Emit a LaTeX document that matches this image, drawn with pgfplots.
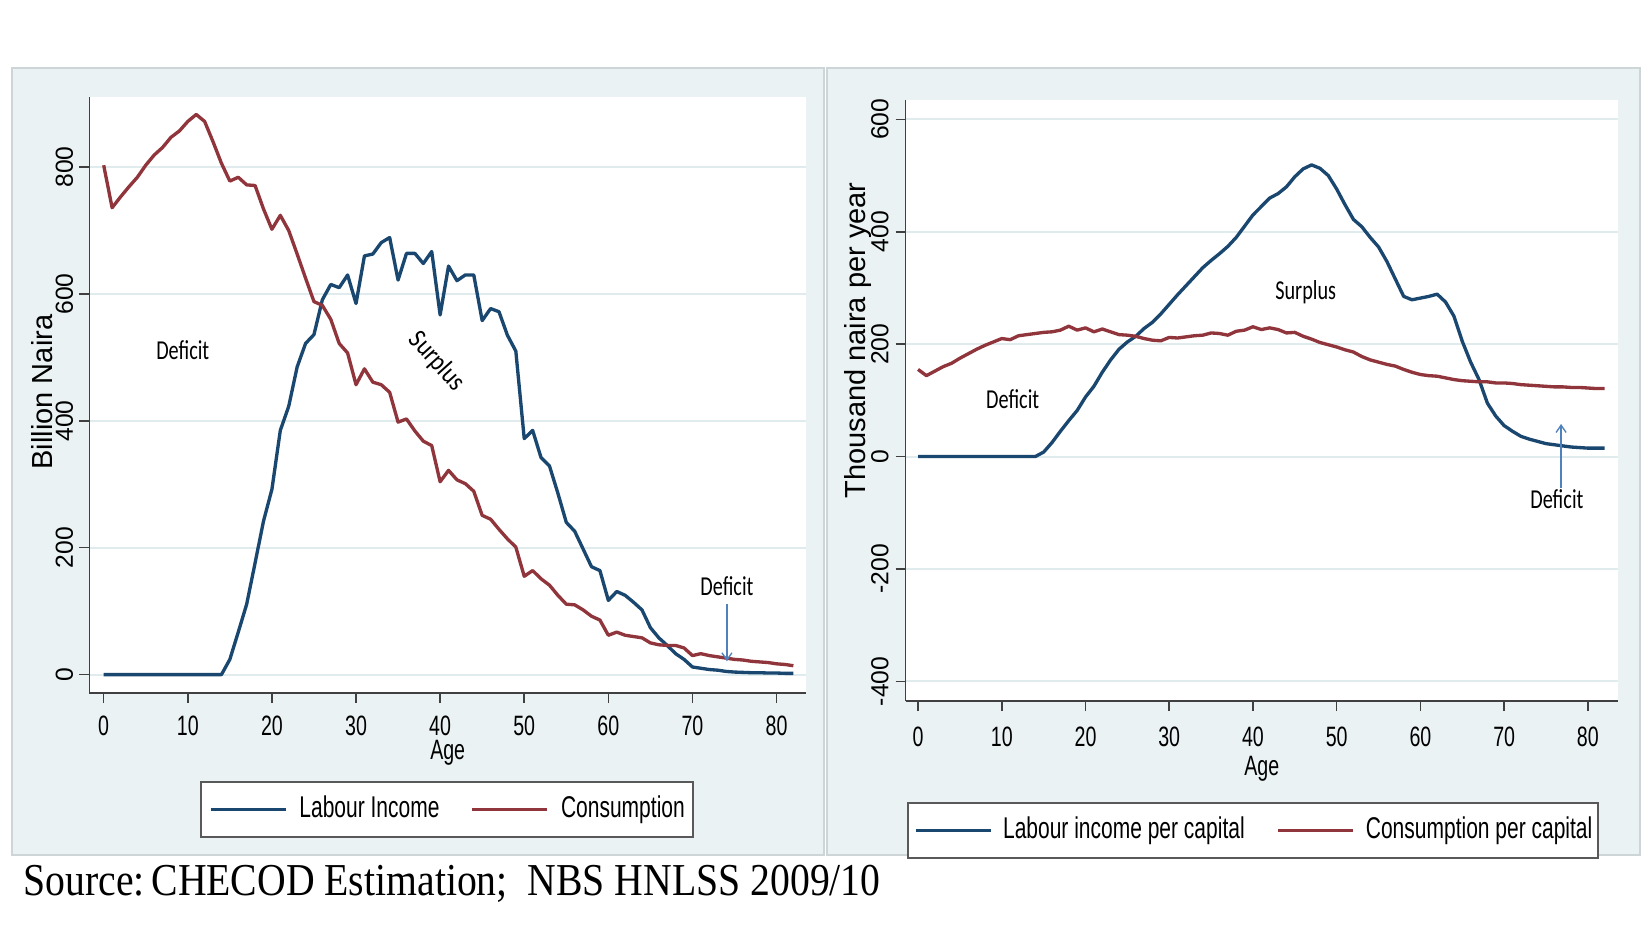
\documentclass[border=0pt]{standalone}
\usepackage{pgfplots}
\pgfplotsset{compat=1.18}
\usepackage{graphicx}
\usepackage{fontspec}
\setmainfont{Liberation Sans}
\newfontfamily\calib{Carlito}
\newfontfamily\srcfont{Liberation Serif}
\usetikzlibrary{arrows.meta}

\definecolor{stnavy}{RGB}{26,71,111}
\definecolor{stmaroon}{RGB}{144,53,59}
\definecolor{panelbg}{RGB}{234,242,243}
\definecolor{gridc}{RGB}{224,235,237}
\definecolor{panelborder}{RGB}{205,213,215}
\definecolor{arrowblue}{RGB}{79,129,189}

\newcommand{\nar}[1]{\scalebox{0.7}[1]{#1}}
\newcommand{\annot}[1]{{\calib\fontsize{8.2}{10}\selectfont\scalebox{0.74}[1]{#1}}}

\pgfplotsset{
 stata/.style={
  scale only axis,
  clip=false,
  axis background/.style={fill=white},
  axis x line*=bottom, axis y line*=left,
  axis line style={color=black!75, line width=0.45pt},
  tick align=outside,
  major tick length=3pt,
  tick style={color=black!75, line width=0.45pt},
  ymajorgrids, grid style={color=gridc, line width=0.6pt},
  xtick={0,10,...,80},
  /pgf/number format/assume math mode=true,
  /pgf/number format/1000 sep={},
  xticklabel={\nar{\pgfmathprintnumber{\tick}}},
  xticklabel style={anchor=north, inner sep=0pt, font=\fontsize{8.4}{10}\selectfont},
  yticklabel style={rotate=90, anchor=south, inner sep=0pt, font=\fontsize{7.4}{9}\selectfont},
  yticklabel shift=1.7pt,
  ylabel style={anchor=center, inner sep=0pt, font=\fontsize{8.7}{10}\selectfont},
  xlabel style={anchor=center, inner sep=0pt, font=\fontsize{8.4}{10}\selectfont},
  legend columns=2,
  legend image code/.code={\draw[#1, line width=0.95pt] (0pt,0pt) -- (22.5pt,0pt);},
  legend style={fill=white, draw=black!65, line width=0.6pt,
    font=\fontsize{9}{11}\selectfont, anchor=north west,
    inner xsep=2.4pt, inner ysep=4.2pt,
    nodes={inner sep=0pt},
    /tikz/every odd column/.append style={column sep=3.7pt},
    /tikz/every even column/.append style={column sep=9.3pt}},
  every axis plot/.append style={line width=1pt, line join=round, mark=none},
 }
}

\begin{document}
\begin{tikzpicture}
\useasboundingbox (0,0) rectangle (495.3pt,279pt);
\fill[white] (0,0) rectangle (495.3pt,279pt);
\filldraw[fill=panelbg, draw=panelborder, line width=0.45pt] (3.6pt,22.5pt) rectangle (247.2pt,258.6pt);
\filldraw[fill=panelbg, draw=panelborder, line width=0.45pt] (248.1pt,22.5pt) rectangle (492pt,258.6pt);

% ---------------- Left panel ----------------
\begin{axis}[stata,
  at={(26.82pt,71.1pt)}, anchor=south west,
  width=214.98pt, height=178.8pt,
  xmin=-1.7, xmax=83.5, ymin=-29, ymax=910.5,
  ytick={0,200,400,600,800},
  xticklabel shift=3.6pt,
  xlabel={\nar{Age}},
  xlabel style={at={(axis description cs:0.5,-0.101)}},
  ylabel={Billion Naira},
  ylabel style={at={(axis description cs:-0.0661,0.505)}},
  legend style={at={(axis description cs:0.1543,-0.1477)}},
]
\addplot[stnavy] coordinates {
(0,0)(1,0)(2,0)(3,0)(4,0)(5,0)(6,0)(7,0)(8,0)(9,0)(10,0)(11,0)(12,0)(13,0)(14,0)
(15,24)(16,67)(17,111)(18,176)(19,242)(20,292)(21,385)(22,423)(23,485)(24,522)
(25,536)(26,591)(27,615)(28,610)(29,630)(30,585)(31,660)(32,663)(33,681)(34,689)
(35,622)(36,664)(37,664)(38,648)(39,667)(40,567)(41,644)(42,621)(43,630)(44,630)
(45,558)(46,577)(47,572)(48,535)(49,510)(50,372)(51,385)(52,342)(53,329)(54,286)
(55,240)(56,226)(57,198)(58,170)(59,164)(60,117)(61,131)(62,125)(63,114)(64,102)
(65,74)(66,58)(67,46)(68,33)(69,24)(70,12)(71,10)(72,8)(73,7)(74,5)(75,4)(76,3.5)
(77,3)(78,3)(79,2.5)(80,2.5)(81,2)(82,2)};
\addlegendentry{\nar{Labour Income}}
\addplot[stmaroon] coordinates {
(0,803)(1,736)(2,753)(3,769)(4,784)(5,803)(6,819)(7,831)(8,847)(9,857)(10,872)
(11,883)(12,872)(13,840)(14,806)(15,778)(16,784)(17,772)(18,771)(19,734)(20,702)
(21,724)(22,700)(23,663)(24,625)(25,588)(26,582)(27,560)(28,522)(29,507)(30,457)
(31,482)(32,461)(33,457)(34,445)(35,398)(36,403)(37,384)(38,368)(39,361)(40,304)
(41,322)(42,307)(43,301)(44,289)(45,251)(46,245)(47,229)(48,214)(49,201)(50,155)
(51,164)(52,151)(53,141)(54,125)(55,111)(56,110)(57,102)(58,92)(59,86)(60,62)
(61,67)(62,62)(63,60)(64,58)(65,50)(66,47)(67,46)(68,46)(69,42)(70,30)(71,33)
(72,30)(73,28)(74,26)(75,24)(76,23)(77,21)(78,20)(79,19)(80,17)(81,16)(82,14)};
\addlegendentry{\nar{Consumption}}
\node at (axis cs:9.4,512) {\annot{Deficit}};
\node[rotate=-48] at (axis cs:39.6,493) {{\calib\fontsize{8.2}{10}\selectfont\scalebox{0.85}[1]{Surplus}}};
\node at (axis cs:74.1,140) {\annot{Deficit}};
\draw[arrowblue, line width=0.4pt, -{Straight Barb[length=2.2pt,width=3pt]}] (axis cs:74.1,111) -- (axis cs:74.1,21);
\end{axis}

% ---------------- Right panel ----------------
\begin{axis}[stata,
  at={(271.65pt,68.7pt)}, anchor=south west,
  width=213.75pt, height=180.3pt,
  xmin=-1.5, xmax=83.6, ymin=-435, ymax=634.5,
  ytick={-400,-200,0,200,400,600},
  xticklabel shift=4.6pt,
  yticklabel shift=1.9pt,
  xlabel={\nar{Age}},
  xlabel style={at={(axis description cs:0.5,-0.112)}},
  ylabel={Thousand naira per year},
  ylabel style={at={(axis description cs:-0.0667,0.600)}},
  legend style={at={(axis description cs:0.002,-0.168)}, inner xsep=1.8pt,
    /tikz/every odd column/.append style={column sep=3.3pt},
    /tikz/every even column/.append style={column sep=9.6pt}},
]
\addplot[stnavy] coordinates {
(0,0)(1,0)(2,0)(3,0)(4,0)(5,0)(6,0)(7,0)(8,0)(9,0)(10,0)(11,0)(12,0)(13,0)(14,0)
(15,8)(16,25)(17,45)(18,64)(19,82)(20,106)(21,125)(22,150)(23,172)(24,191)(25,204)
(26,214)(27,228)(28,239)(29,254)(30,271)(31,288)(32,304)(33,320)(34,336)(35,349)
(36,361)(37,374)(38,390)(39,410)(40,430)(41,445)(42,460)(43,468)(44,480)(45,498)
(46,512)(47,519)(48,513)(49,500)(50,476)(51,448)(52,422)(53,409)(54,390)(55,373)
(56,347)(57,316)(58,285)(59,279)(60,282)(61,285)(62,289)(63,275)(64,250)(65,205)
(66,168)(67,137)(68,95)(69,72)(70,55)(71,45)(72,36)(73,31)(74,27)(75,23)(76,21)
(77,19)(78,17)(79,16)(80,15)(81,15)(82,15)};
\addlegendentry{\nar{Labour income per capital}}
\addplot[stmaroon] coordinates {
(0,155)(1,144)(2,152)(3,160)(4,166)(5,175)(6,183)(7,191)(8,198)(9,204)(10,210)
(11,208)(12,215)(13,217)(14,219)(15,221)(16,222)(17,225)(18,232)(19,225)(20,229)
(21,222)(22,227)(23,222)(24,217)(25,216)(26,214)(27,210)(28,207)(29,206)(30,212)
(31,211)(32,213)(33,215)(34,216)(35,220)(36,219)(37,216)(38,223)(39,225)(40,231)
(41,226)(42,229)(43,226)(44,220)(45,221)(46,214)(47,209)(48,203)(49,199)(50,195)
(51,190)(52,186)(53,178)(54,172)(55,168)(56,164)(57,161)(58,155)(59,150)(60,146)
(61,144)(62,143)(63,140)(64,137)(65,135)(66,134)(67,133)(68,133)(69,131)(70,131)
(71,130)(72,128)(73,127)(74,126)(75,125)(76,124)(77,124)(78,123)(79,123)(80,122)
(81,121)(82,121)};
\addlegendentry{\nar{Consumption per capital}}
\node at (axis cs:46.3,293) {\annot{Surplus}};
\node at (axis cs:11.3,102) {\annot{Deficit}};
\node at (axis cs:76.3,-76) {\annot{Deficit}};
\draw[arrowblue, line width=0.4pt, -{Straight Barb[length=2.2pt,width=3pt]}] (axis cs:76.8,-56) -- (axis cs:76.8,58);
\end{axis}

% ---------------- Source ----------------
\node[anchor=west, inner sep=0pt] at (6.9pt,13.8pt)
  {\scalebox{1}[1.15]{\resizebox{257.1pt}{!}{\srcfont\fontsize{12}{14}\selectfont Source:\,CHECOD Estimation;\ \ NBS HNLSS 2009/10}}};
\end{tikzpicture}
\end{document}
